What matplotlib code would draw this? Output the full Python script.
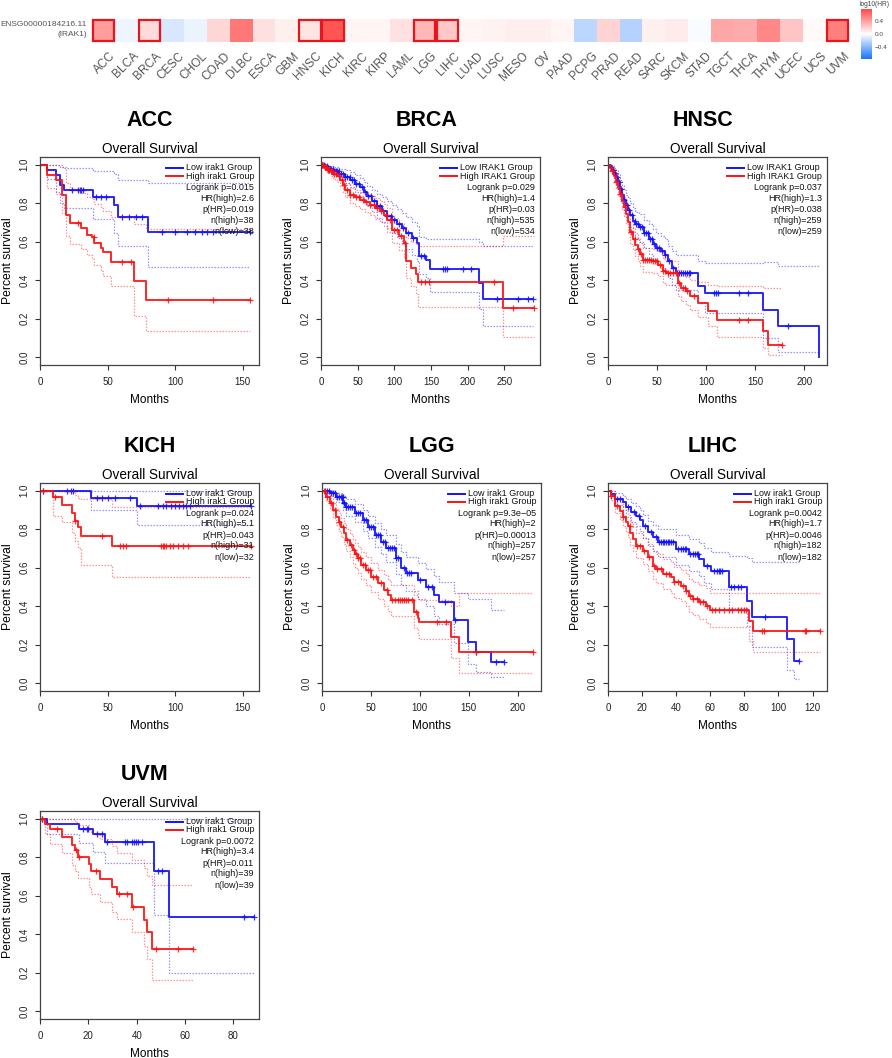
import numpy as np
import matplotlib
matplotlib.use('Agg')
import matplotlib.pyplot as plt
from matplotlib.colors import LinearSegmentedColormap
from matplotlib.patches import Rectangle
from matplotlib.transforms import offset_copy

plt.rcParams['font.family'] = ['Liberation Sans', 'DejaVu Sans']

# ---------------- heatmap data ----------------
cancer_types = ['ACC', 'BLCA', 'BRCA', 'CESC', 'CHOL', 'COAD', 'DLBC', 'ESCA', 'GBM', 'HNSC', 'KICH',
                'KIRC', 'KIRP', 'LAML', 'LGG', 'LIHC', 'LUAD', 'LUSC', 'MESO', 'OV', 'PAAD', 'PCPG',
                'PRAD', 'READ', 'SARC', 'SKCM', 'STAD', 'TGCT', 'THCA', 'THYM', 'UCEC', 'UCS', 'UVM']
log10_hr = [0.41, -0.05, 0.15, -0.13, -0.06, 0.17, 0.56, 0.13, 0.06, 0.11, 0.71,
            0.04, 0.04, 0.12, 0.30, 0.23, 0.04, 0.05, 0.07, 0.07, 0.04, -0.22,
            0.18, -0.24, 0.06, 0.08, -0.02, 0.37, 0.35, 0.50, 0.24, 0.02, 0.53]
significant = ['ACC', 'BRCA', 'HNSC', 'KICH', 'LGG', 'LIHC', 'UVM']
cbar_ticks = [-0.4, 0.0, 0.4]
cbar_labels = ['\u22120.4', '0.0', '0.4']
gene_label = ['ENSG00000184216.11', '(IRAK1)']

# ---------------- survival data ----------------
ACC_low_t = [0, 4.9, 11.7, 14.7, 17.6, 39, 55, 58, 80]
ACC_low_s = [1.0, 0.974, 0.947, 0.895, 0.868, 0.831, 0.790, 0.731, 0.650]
ACC_low_up = [1.0, 1.0, 1.0, 0.99, 0.983, 0.969, 0.95, 0.922, 0.904]
ACC_low_lo = [1.0, 0.925, 0.86, 0.80, 0.775, 0.72, 0.645, 0.58, 0.47]
ACC_low_cens = [24, 28, 29.3, 30.6, 31.8, 41.6, 45, 49, 61, 66, 71, 75.8, 90.5, 100, 108.8, 115, 119.8, 123.5, 128, 155]
ACC_high_t = [0, 5, 12, 16.6, 19, 22.5, 30.6, 34.7, 38.6, 40.3, 45.2, 46.5, 52.6, 69.7, 78.2]
ACC_high_s = [1.0, 0.947, 0.921, 0.842, 0.737, 0.697, 0.671, 0.637, 0.625, 0.593, 0.567, 0.545, 0.493, 0.394, 0.296]
ACC_high_up = [1.0, 1.0, 1.0, 0.99, 0.905, 0.875, 0.855, 0.83, 0.82, 0.795, 0.775, 0.76, 0.73, 0.69, 0.665]
ACC_high_lo = [1.0, 0.88, 0.85, 0.75, 0.63, 0.59, 0.56, 0.53, 0.51, 0.48, 0.45, 0.42, 0.37, 0.216, 0.135]
ACC_high_cens = [28, 40, 61, 67, 95, 128, 155]

BRCA_low_t = [0, 5, 10, 17, 25, 33, 40, 47, 53, 58, 63, 70, 76, 83, 90, 97, 104, 110, 116, 124, 131, 133, 143, 149, 215.5, 220.5]
BRCA_low_s = [1.0, 0.993, 0.98, 0.965, 0.95, 0.935, 0.92, 0.90, 0.884, 0.86, 0.836, 0.81, 0.784, 0.76, 0.735, 0.715, 0.694, 0.67, 0.645, 0.62, 0.594, 0.524, 0.507, 0.458, 0.386, 0.305]
BRCA_low_up = [1.0, 1.0, 0.995, 0.99, 0.98, 0.97, 0.96, 0.945, 0.93, 0.91, 0.89, 0.87, 0.85, 0.83, 0.81, 0.79, 0.77, 0.75, 0.73, 0.705, 0.68, 0.625, 0.615, 0.615, 0.60, 0.58]
BRCA_low_lo = [1.0, 0.985, 0.965, 0.945, 0.925, 0.905, 0.885, 0.86, 0.84, 0.81, 0.785, 0.755, 0.725, 0.70, 0.67, 0.645, 0.62, 0.59, 0.56, 0.53, 0.50, 0.43, 0.41, 0.34, 0.25, 0.16]
BRCA_low_cens = [2, 4, 6, 8, 10, 12, 14, 16, 18, 20, 22, 24, 27, 30, 33, 36, 39, 42, 45, 48, 52, 56, 60, 64, 68,
                 72, 76, 80, 85, 90, 95, 100, 106, 112, 118, 125, 137, 140, 166, 169, 172, 193, 204, 240, 269, 282, 289.5]
BRCA_high_t = [0, 4, 8, 13, 17, 22, 26, 30, 33, 40, 47, 53, 60, 67, 74, 81, 86, 90, 97, 106, 113, 116, 122.7, 129.5, 131.8, 248.6]
BRCA_high_s = [1.0, 0.99, 0.974, 0.965, 0.953, 0.94, 0.922, 0.895, 0.87, 0.844, 0.83, 0.818, 0.805, 0.792, 0.775, 0.758, 0.74, 0.715, 0.663, 0.628, 0.594, 0.498, 0.464, 0.43, 0.39, 0.256]
BRCA_high_up = [1.0, 1.0, 0.99, 0.985, 0.975, 0.965, 0.95, 0.93, 0.905, 0.88, 0.87, 0.86, 0.85, 0.84, 0.825, 0.81, 0.795, 0.775, 0.725, 0.695, 0.665, 0.62, 0.60, 0.59, 0.576, 0.63]
BRCA_high_lo = [1.0, 0.975, 0.955, 0.94, 0.925, 0.91, 0.89, 0.86, 0.83, 0.80, 0.785, 0.77, 0.755, 0.74, 0.72, 0.70, 0.68, 0.65, 0.595, 0.555, 0.52, 0.41, 0.37, 0.33, 0.26, 0.105]
BRCA_high_cens = [1, 3, 5, 7, 9, 11, 13, 15, 18, 21, 24, 28, 32, 36, 40, 44, 48, 52, 57, 62, 67, 72, 77, 82,
                  88, 94, 100, 104, 109, 114, 136, 142, 147, 236, 262, 291]

HNSC_low_t = [0, 2, 4, 6, 8, 10, 12, 14, 16, 18, 20, 22, 25, 28, 32, 37, 42, 46, 49, 54, 57.6, 61, 65.4, 68.8, 91.5, 98.3, 157.6, 172.9, 215.3]
HNSC_low_s = [1.0, 0.99, 0.975, 0.955, 0.935, 0.91, 0.875, 0.845, 0.815, 0.79, 0.765, 0.74, 0.71, 0.69, 0.675, 0.645, 0.614, 0.59, 0.567, 0.55, 0.533, 0.498, 0.464, 0.438, 0.369, 0.334, 0.247, 0.164, 0.0]
HNSC_low_up = [1.0, 1.0, 0.995, 0.985, 0.97, 0.95, 0.92, 0.895, 0.87, 0.845, 0.825, 0.80, 0.775, 0.755, 0.745, 0.715, 0.69, 0.665, 0.645, 0.63, 0.615, 0.58, 0.55, 0.53, 0.50, 0.49, 0.495, 0.475, 0.475]
HNSC_low_lo = [1.0, 0.975, 0.955, 0.925, 0.90, 0.87, 0.83, 0.795, 0.76, 0.73, 0.70, 0.675, 0.64, 0.62, 0.60, 0.57, 0.535, 0.51, 0.485, 0.465, 0.45, 0.41, 0.375, 0.35, 0.28, 0.23, 0.10, 0.03, 0.03]
HNSC_low_cens = [3, 5, 7, 9, 11, 13, 16, 19, 21, 24, 27, 29, 31, 33, 35, 37, 39, 41, 43, 45, 47, 50, 52, 55, 58,
                 62, 66, 70, 72, 74, 76, 78, 80, 82, 84, 108, 110, 112, 133, 143, 183.7]
HNSC_high_t = [0, 2, 4, 6, 8, 10, 12, 14, 16, 18, 20, 22, 25, 28, 30.5, 33, 35.6, 45, 50.8, 56, 59.3, 71.2, 74.6, 79, 83, 91.5, 101.7, 110.8, 157.6, 162.7]
HNSC_high_s = [1.0, 0.985, 0.965, 0.94, 0.91, 0.88, 0.85, 0.81, 0.78, 0.745, 0.70, 0.65, 0.615, 0.585, 0.56, 0.535, 0.507, 0.50, 0.481, 0.446, 0.438, 0.386, 0.36, 0.343, 0.317, 0.282, 0.239, 0.195, 0.135, 0.066]
HNSC_high_up = [1.0, 1.0, 0.99, 0.97, 0.945, 0.92, 0.89, 0.855, 0.83, 0.795, 0.755, 0.705, 0.67, 0.645, 0.62, 0.595, 0.57, 0.56, 0.545, 0.51, 0.50, 0.455, 0.43, 0.415, 0.40, 0.39, 0.375, 0.37, 0.36, 0.36]
HNSC_high_lo = [1.0, 0.97, 0.945, 0.91, 0.875, 0.84, 0.81, 0.765, 0.73, 0.695, 0.645, 0.59, 0.555, 0.525, 0.50, 0.475, 0.445, 0.44, 0.42, 0.385, 0.375, 0.32, 0.29, 0.27, 0.245, 0.21, 0.16, 0.105, 0.048, 0.01]
HNSC_high_cens = [4, 8, 12, 17, 23, 27, 31, 34, 36, 38, 40, 42, 44, 46, 48, 50, 53, 56, 58, 61, 63, 66, 69, 72,
                  76, 78, 80, 88, 133, 143, 177]

KICH_low_t = [0, 38, 71.7]
KICH_low_s = [1.0, 0.964, 0.920]
KICH_low_up = [1.0, 1.0, 1.0]
KICH_low_lo = [1.0, 0.90, 0.82]
KICH_low_cens = [2.5, 19.7, 23.3, 24.6, 41.8, 45.5, 50.4, 55.3, 66.3, 73.7, 87.2, 90.9, 93.4, 97, 99.5, 103, 105.7, 108, 110.6, 156]
KICH_high_t = [0, 9.8, 16, 24, 25.8, 28.3, 30.2, 53.6]
KICH_high_s = [1.0, 0.965, 0.928, 0.886, 0.845, 0.81, 0.765, 0.713]
KICH_high_up = [1.0, 1.0, 1.0, 1.0, 0.98, 0.96, 0.955, 0.917]
KICH_high_lo = [1.0, 0.87, 0.835, 0.78, 0.74, 0.70, 0.615, 0.552]
KICH_high_cens = [2.5, 11, 25.8, 45.5, 59, 61.4, 63.4, 89.7, 90.9, 92, 93.4, 95.8, 98.3, 102, 105.7, 109.3, 156]

LGG_low_t = [0, 7.8, 14.6, 21.4, 24.8, 33.3, 41.8, 46.9, 53.7, 60.5, 65, 75.9, 81, 86, 98, 106.5, 115, 120, 135.4, 149, 157.5, 172.8]
LGG_low_s = [1.0, 0.99, 0.965, 0.934, 0.913, 0.882, 0.848, 0.813, 0.77, 0.735, 0.70, 0.649, 0.597, 0.571, 0.536, 0.502, 0.458, 0.424, 0.329, 0.216, 0.164, 0.109]
LGG_low_up = [1.0, 1.0, 0.99, 0.97, 0.955, 0.93, 0.90, 0.87, 0.83, 0.80, 0.77, 0.725, 0.68, 0.655, 0.625, 0.595, 0.555, 0.525, 0.47, 0.44, 0.44, 0.38]
LGG_low_lo = [1.0, 0.975, 0.94, 0.90, 0.87, 0.835, 0.79, 0.755, 0.71, 0.67, 0.63, 0.57, 0.51, 0.48, 0.44, 0.40, 0.35, 0.31, 0.21, 0.10, 0.06, 0.035]
LGG_low_cens = [3, 5, 7, 9, 11, 13, 15, 17, 19, 20, 21, 22, 23, 25, 27, 29, 31, 35, 37, 39, 43, 45, 48, 50, 52,
                55, 57, 59, 62, 64, 67, 70, 72, 74, 76, 78, 84, 87, 89, 91, 100, 108, 112, 126, 136, 158, 178, 186]
LGG_high_t = [0, 4.4, 7.8, 11.2, 14.6, 17, 19.7, 22, 24.8, 28.2, 31.6, 34, 36.7, 40.1, 45.2, 50.3, 57.1, 63.9, 67.3, 70.7, 94.6, 98, 99.7, 132, 140.5]
LGG_high_s = [1.0, 0.969, 0.934, 0.90, 0.865, 0.84, 0.813, 0.78, 0.744, 0.718, 0.692, 0.67, 0.649, 0.614, 0.588, 0.554, 0.519, 0.484, 0.458, 0.433, 0.372, 0.337, 0.317, 0.239, 0.161]
LGG_high_up = [1.0, 0.99, 0.96, 0.935, 0.905, 0.885, 0.86, 0.83, 0.80, 0.775, 0.75, 0.73, 0.71, 0.68, 0.655, 0.625, 0.59, 0.56, 0.535, 0.51, 0.46, 0.44, 0.43, 0.40, 0.467]
LGG_high_lo = [1.0, 0.945, 0.905, 0.86, 0.82, 0.79, 0.76, 0.725, 0.685, 0.655, 0.625, 0.60, 0.575, 0.54, 0.51, 0.475, 0.44, 0.40, 0.375, 0.35, 0.285, 0.25, 0.23, 0.13, 0.052]
LGG_high_cens = [2, 5, 9, 13, 17, 21, 26, 30, 33, 35, 37, 39, 42, 44, 47, 49, 52, 55, 60, 66, 72, 75, 78, 80,
                 82, 84, 86, 88, 92, 96, 118, 127, 158, 216]

LIHC_low_t = [0, 1.9, 3.9, 8.8, 10.7, 13.6, 16.5, 18.5, 20.4, 23.3, 26.3, 29.2, 39.9, 47.7, 53.5, 56.4, 60.3, 71, 81.7, 84.6, 105, 109]
LIHC_low_s = [1.0, 0.983, 0.957, 0.94, 0.913, 0.888, 0.87, 0.848, 0.818, 0.784, 0.758, 0.732, 0.697, 0.671, 0.645, 0.611, 0.585, 0.502, 0.429, 0.343, 0.23, 0.118]
LIHC_low_up = [1.0, 1.0, 0.99, 0.975, 0.955, 0.935, 0.92, 0.90, 0.875, 0.845, 0.82, 0.80, 0.77, 0.75, 0.73, 0.70, 0.68, 0.66, 0.65, 0.628, 0.628, 0.628]
LIHC_low_lo = [1.0, 0.96, 0.925, 0.90, 0.865, 0.835, 0.815, 0.79, 0.755, 0.715, 0.685, 0.655, 0.615, 0.585, 0.555, 0.52, 0.49, 0.39, 0.30, 0.19, 0.07, 0.02]
LIHC_low_cens = [5, 7, 12, 15, 18, 22, 25, 28, 30, 31, 32, 33, 34, 35, 36, 37, 38, 41, 43, 44, 45, 46, 48, 50,
                 51, 52, 53, 58, 62, 64, 65, 66, 67, 72, 74, 76, 78, 92.4, 112]
LIHC_high_t = [0, 1.9, 3.9, 6.8, 8.8, 10.3, 11.7, 13.2, 14.6, 16.5, 20.4, 23.3, 26.3, 28.2, 32.1, 37, 38.9, 42.8, 45.7, 47.7, 49.6, 53.5, 57.4, 59.7, 82.7, 85]
LIHC_high_s = [1.0, 0.974, 0.922, 0.896, 0.865, 0.84, 0.818, 0.78, 0.749, 0.715, 0.689, 0.654, 0.611, 0.594, 0.567, 0.55, 0.524, 0.507, 0.481, 0.455, 0.438, 0.42, 0.403, 0.38, 0.325, 0.273]
LIHC_high_up = [1.0, 1.0, 0.96, 0.94, 0.915, 0.895, 0.875, 0.84, 0.81, 0.78, 0.755, 0.725, 0.685, 0.67, 0.645, 0.63, 0.605, 0.59, 0.565, 0.54, 0.525, 0.51, 0.495, 0.47, 0.47, 0.467]
LIHC_high_lo = [1.0, 0.95, 0.885, 0.85, 0.815, 0.785, 0.76, 0.72, 0.685, 0.65, 0.62, 0.585, 0.54, 0.52, 0.49, 0.47, 0.445, 0.425, 0.40, 0.37, 0.355, 0.335, 0.315, 0.29, 0.22, 0.16]
LIHC_high_cens = [2, 5, 9, 13, 17, 19, 21, 24, 27, 29, 31, 34, 36, 39, 41, 44, 46, 48, 50, 52, 54, 56, 58, 61,
                  63, 65, 68, 71, 73, 76, 78, 80, 81, 90.5, 91.4, 115.4, 116, 124.5]

UVM_low_t = [0, 2.8, 16.2, 22.1, 26.9, 47, 53.2]
UVM_low_s = [1.0, 0.974, 0.948, 0.922, 0.879, 0.729, 0.488]
UVM_low_up = [1.0, 1.0, 1.0, 1.0, 1.0, 1.0, 1.0]
UVM_low_lo = [1.0, 0.919, 0.872, 0.828, 0.772, 0.50, 0.20]
UVM_low_cens = [1, 17.7, 19.3, 19.9, 23.4, 25.5, 27.6, 35, 36, 38, 38.7, 39.8, 40.7, 42.1, 49, 50.4, 84.3, 88.4]
UVM_high_t = [0, 2, 4.1, 9, 13.1, 14.5, 15.9, 20.4, 21.1, 24.9, 29.7, 31.8, 38, 43.1, 44.2, 46.3]
UVM_high_s = [1.0, 0.974, 0.945, 0.907, 0.864, 0.84, 0.80, 0.764, 0.729, 0.686, 0.643, 0.609, 0.543, 0.476, 0.41, 0.324]
UVM_high_up = [1.0, 1.0, 1.0, 1.0, 1.0, 0.985, 0.965, 0.945, 0.925, 0.895, 0.86, 0.824, 0.784, 0.745, 0.703, 0.655]
UVM_high_lo = [1.0, 0.92, 0.87, 0.82, 0.76, 0.73, 0.69, 0.645, 0.61, 0.565, 0.515, 0.48, 0.41, 0.34, 0.27, 0.16]
UVM_high_cens = [1, 7, 14.8, 16.2, 23, 32.8, 35.9, 38.6, 47.9, 57, 63.5]

panel_names = ['ACC', 'BRCA', 'HNSC', 'KICH', 'LGG', 'LIHC', 'UVM']
gene_names = ['irak1', 'IRAK1', 'IRAK1', 'irak1', 'irak1', 'irak1', 'irak1']
logrank_p = ['0.015', '0.029', '0.037', '0.024', '9.3e\u221205', '0.0042', '0.0072']
hr_high = ['2.6', '1.4', '1.3', '5.1', '2', '1.7', '3.4']
p_hr = ['0.019', '0.03', '0.038', '0.043', '0.00013', '0.0046', '0.011']
n_high = [38, 535, 259, 31, 257, 182, 39]
n_low = [38, 534, 259, 32, 257, 182, 39]
x_max = [162, 298.6, 223, 162, 224, 128.5, 90.6]
x_ticks = [[0, 50, 100, 150], [0, 50, 100, 150, 200, 250], [0, 50, 100, 150, 200],
           [0, 50, 100, 150], [0, 50, 100, 150, 200], [0, 20, 40, 60, 80, 100, 120], [0, 20, 40, 60, 80]]
y_ticks = [0.0, 0.2, 0.4, 0.6, 0.8, 1.0]

data = globals()

# ---------------- layout (pixels) ----------------
W, H = 892, 1058
fig = plt.figure(figsize=(W / 100, H / 100), dpi=100)


def fx(px):
    return px / W


def fy(py):
    return 1 - py / H


# heatmap
cmap = LinearSegmentedColormap.from_list('bwr_g', ['#1874FF', '#FFFFFF', '#FF4A4A'])
VLIM = 0.76
n = len(cancer_types)
hm_left, hm_right, hm_top, hm_bot = 92, 849, 19, 42
hax = fig.add_axes([fx(hm_left), fy(hm_bot), (hm_right - hm_left) / W, (hm_bot - hm_top) / H])
hax.imshow(np.array(log10_hr)[None, :], cmap=cmap, vmin=-VLIM, vmax=VLIM, aspect='auto',
           interpolation='nearest', extent=(-0.5, n - 0.5, 0.5, -0.5))
hax.set_xlim(-0.5, n - 0.5)
hax.set_ylim(0.5, -0.5)
hax.axis('off')
for name in significant:
    i = cancer_types.index(name)
    hax.add_patch(Rectangle((i - 0.5 + 0.03, -0.5 + 0.04), 0.94, 0.92, fill=False,
                            ec='#E8161C', lw=1.6, clip_on=False))
tr = offset_copy(hax.transData, fig=fig, x=6, y=-8, units='dots')
for i, name in enumerate(cancer_types):
    hax.text(i, 0.5, name, transform=tr, rotation=45, ha='right', va='top',
             rotation_mode='anchor', fontsize=8.6, color='#555555')
fig.text(fx(87), fy(25), gene_label[0], ha='right', va='center', fontsize=6.0, color='#555555')
fig.text(fx(87), fy(35), gene_label[1], ha='right', va='center', fontsize=6.0, color='#555555')

# colorbar
cax = fig.add_axes([fx(861), fy(59), 11 / W, 50 / H])
cax.imshow(np.linspace(VLIM, -VLIM, 200)[:, None], cmap=cmap, vmin=-VLIM, vmax=VLIM,
           aspect='auto', extent=(0, 1, -VLIM, VLIM))
cax.set_ylim(-VLIM, VLIM)
cax.set_xticks([])
cax.yaxis.tick_right()
cax.set_yticks(cbar_ticks)
cax.set_yticklabels(cbar_labels)
cax.tick_params(axis='y', length=0, pad=2, labelsize=4.6, labelcolor='#444444')
for sp in cax.spines.values():
    sp.set_visible(False)
fig.text(fx(875), fy(4), 'log10(HR)', ha='center', va='center', fontsize=4.8, color='#444444')

# survival panels
col_left = [40, 321, 608, 40, 322, 608, 40]
row_top = [157, 157, 157, 483, 483, 483, 811]
title_x_shift = [0, -4, -15, 0, 0, -5, -5]
AX_W, AX_H = 219, 208
BLUE = '#1010FF'
RED = '#FF1010'


def step_to(t, s, tend):
    t = list(t)
    s = list(s)
    if tend > t[-1]:
        t = t + [tend]
        s = s + [s[-1]]
    return t, s


def y_at(t, s, c):
    idx = np.searchsorted(np.array(t), c, side='right') - 1
    return np.array(s)[idx]


fig.canvas.draw()
renderer = fig.canvas.get_renderer()

for k, name in enumerate(panel_names):
    L, T = col_left[k], row_top[k]
    ax = fig.add_axes([fx(L), fy(T + AX_H), AX_W / W, AX_H / H])
    for grp, col in (('low', BLUE), ('high', RED)):
        t = data[f'{name}_{grp}_t']
        s = data[f'{name}_{grp}_s']
        up = data[f'{name}_{grp}_up']
        lo = data[f'{name}_{grp}_lo']
        cens = data[f'{name}_{grp}_cens']
        tend = max(max(cens), t[-1])
        for band in (up, lo):
            bt, bs = step_to(t, band, tend)
            ax.step(bt, bs, where='post', color=col, lw=0.9, alpha=0.45,
                    linestyle=(0, (1.2, 1.2)))
        mt, ms = step_to(t, s, tend)
        ax.step(mt, ms, where='post', color=col, lw=1.4, alpha=0.9)
        ax.plot(cens, y_at(t, s, cens), linestyle='none', marker='+', ms=5,
                mew=0.9, color=col, alpha=0.85)
    ax.set_xlim(0, x_max[k])
    ax.set_ylim(-0.04, 1.04)
    ax.set_xticks(x_ticks[k])
    ax.set_yticks(y_ticks)
    ax.set_yticklabels([f'{v:.1f}' for v in y_ticks], rotation=90, va='center')
    ax.tick_params(length=3.6, width=0.8, color='#333333', labelsize=7.0,
                   labelcolor='#222222')
    ax.tick_params(axis='x', pad=5)
    ax.tick_params(axis='y', pad=4)
    for sp in ax.spines.values():
        sp.set_color('#444444')
        sp.set_linewidth(0.9)
    ax.set_xlabel('Months', fontsize=8.5, labelpad=5)
    ax.set_ylabel('Percent survival', fontsize=8.7, labelpad=4)

    # legend (manual)
    fs = 6.5
    xr = 1 - 5 / AX_W
    txt_high = ax.text(xr, 1 - 19 / AX_H, f'High {gene_names[k]} Group', transform=ax.transAxes,
                       ha='right', va='center', fontsize=fs, color='#111111')
    bb = txt_high.get_window_extent(renderer)
    x_start_px = bb.x0 - fx(L) * W
    xs = x_start_px / AX_W
    ax.text(xs, 1 - 10.5 / AX_H, f'Low {gene_names[k]} Group', transform=ax.transAxes,
            ha='left', va='center', fontsize=fs, color='#111111')
    for yy, col in ((1 - 10.5 / AX_H, BLUE), (1 - 19 / AX_H, RED)):
        ax.plot([xs - 20 / AX_W, xs - 3 / AX_W], [yy, yy], transform=ax.transAxes,
                color=col, lw=1.4, clip_on=False)
    stats = [f'Logrank p={logrank_p[k]}', f'HR(high)={hr_high[k]}', f'p(HR)={p_hr[k]}',
             f'n(high)={n_high[k]}', f'n(low)={n_low[k]}']
    for j, st in enumerate(stats):
        ax.text(xr, 1 - (30 + 11 * j) / AX_H, st, transform=ax.transAxes,
                ha='right', va='center', fontsize=fs, color='#111111')

    cx = L + AX_W / 2
    fig.text(fx(cx), fy(T - 8), 'Overall Survival', ha='center', va='center', fontsize=9.8)
    fig.text(fx(cx + title_x_shift[k]), fy(T - 37), name, ha='center', va='center',
             fontsize=15.5, fontweight='bold')

fig.savefig('out.png', dpi=100)
